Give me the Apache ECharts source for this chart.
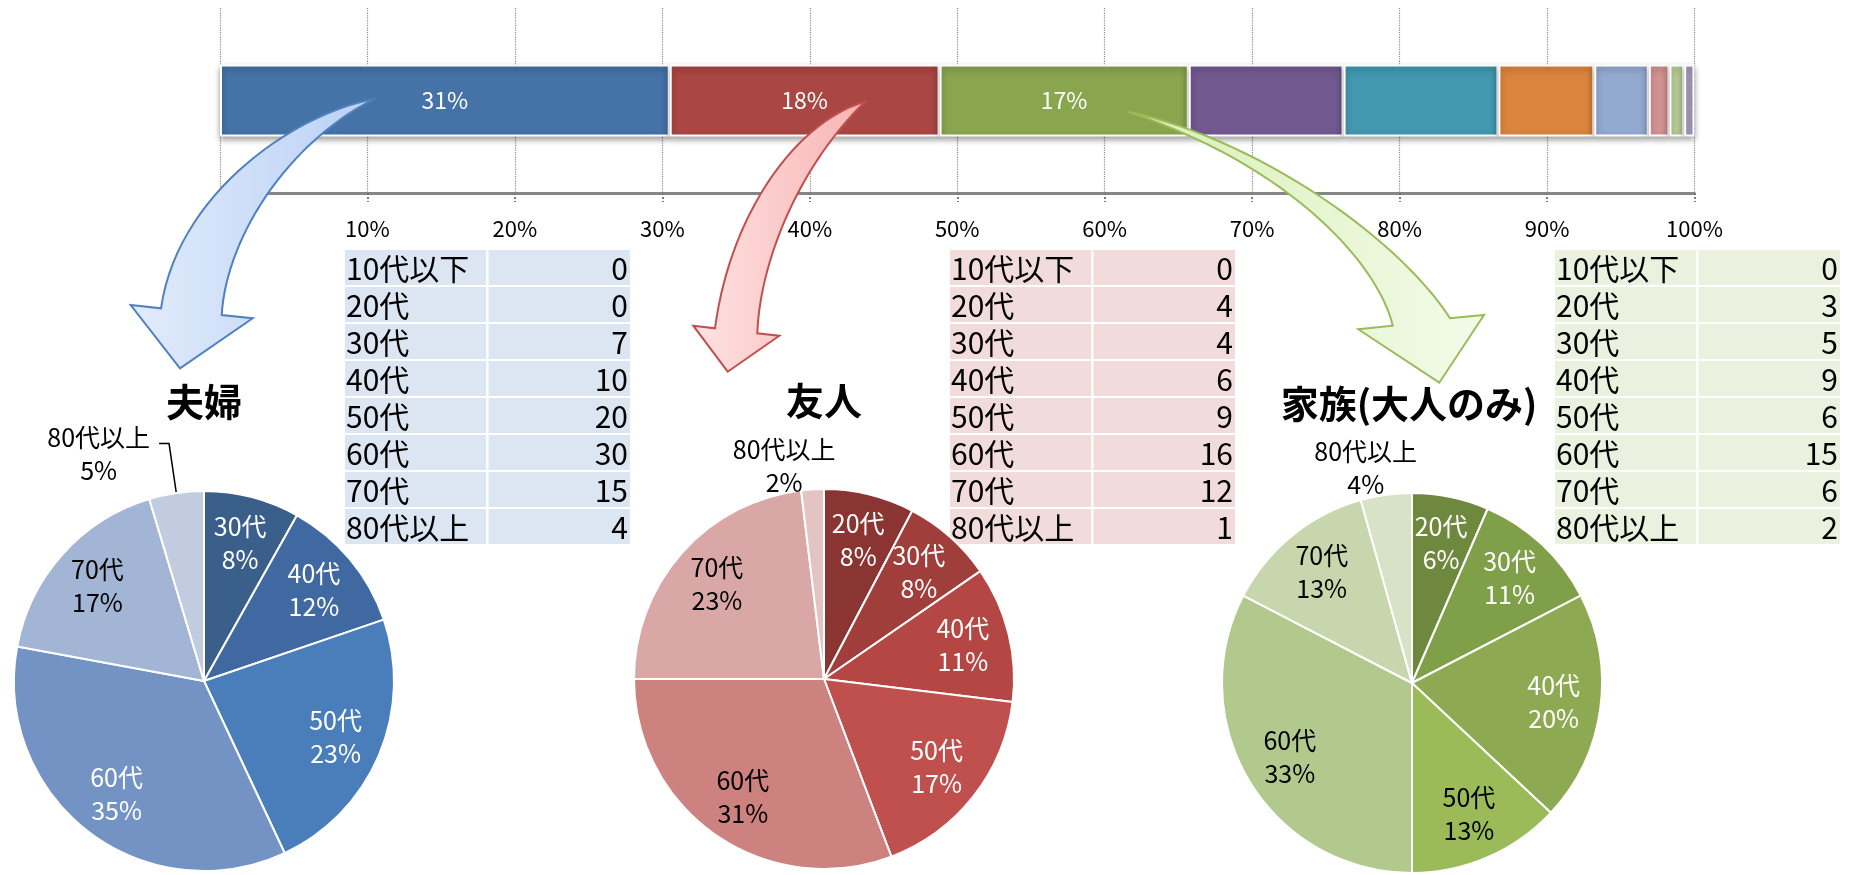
<!DOCTYPE html>
<html>
<head>
<meta charset="utf-8">
<script src="https://cdn.jsdelivr.net/npm/echarts@6/dist/echarts.min.js"></script>
<style>
  html, body { margin: 0; padding: 0; background: #fff; }
  #main { width: 1856px; height: 875px; }
</style>
</head>
<body>
<div id="main"></div>
<script>
// 上の帯グラフ：構成比（%）
var groupNames = ['夫婦', '友人', '家族(大人のみ)', 'その他4', 'その他5', 'その他6', 'その他7', 'その他8', 'その他9', 'その他10'];
var groupShares = [30.5, 18.3, 16.9, 10.5, 10.5, 6.5, 3.7, 1.4, 1.0, 0.7];

// 年代別の人数
var ageLabels = ['10代以下', '20代', '30代', '40代', '50代', '60代', '70代', '80代以上'];
var coupleCounts = [0, 0, 7, 10, 20, 30, 15, 4];
var friendCounts = [0, 4, 4, 6, 9, 16, 12, 1];
var familyCounts = [0, 3, 5, 9, 6, 15, 6, 2];

var FONT = 'Noto Sans CJK JP';
var barColors = ['#4572A7', '#AA4643', '#89A54E', '#71588F', '#4198AF', '#DB843D', '#93A9CF', '#D19392', '#B9CD96', '#A99BBD'];

var pieSettings = [
  {
    title: '夫婦', counts: coupleCounts, center: [204, 681], titlePos: [204, 402],
    tableLeft: 344, tableBg: '#DCE6F2',
    colors: ['#2F4D71', '#33557F', '#3A5F8B', '#4169A1', '#4A7EBB', '#7393C4', '#A2B5D5', '#C1CCE1'],
    textColors: ['#fff', '#fff', '#fff', '#fff', '#fff', '#fff', '#000', '#000'],
    outer: { line: true, length: 50, length2: 10, distance: 9 }
  },
  {
    title: '友人', counts: friendCounts, center: [824, 679], titlePos: [824, 401],
    tableLeft: 949, tableBg: '#F2DCDB',
    colors: ['#6E2A29', '#8B3533', '#A03E3C', '#B44744', '#C0504D', '#CD827F', '#D9A7A6', '#E4C4C3'],
    textColors: ['#fff', '#fff', '#fff', '#fff', '#fff', '#000', '#000', '#000'],
    outer: { line: false, length: 33, length2: 0, distance: -25 }
  },
  {
    title: '家族(大人のみ)', counts: familyCounts, center: [1412, 683], titlePos: [1409, 404],
    tableLeft: 1554, tableBg: '#EBF1DE',
    colors: ['#5C7433', '#6E893D', '#809F49', '#8DAA52', '#9BBB59', '#B1C98D', '#C7D6AC', '#D8E2C7'],
    textColors: ['#fff', '#fff', '#fff', '#fff', '#000', '#000', '#000', '#000'],
    outer: { line: false, length: 37, length2: 0, distance: -36 }
  }
];

var myChart = echarts.init(document.getElementById('main'));

function tableRenderer(counts, bg) {
  return function (params, api) {
    var col = api.value(0);
    var row = api.value(1);
    var c = api.coord([col, row]);
    var s = api.size([1, 1]);
    var x0 = c[0] - s[0] / 2;
    var y0 = c[1] - s[1] / 2;
    var text = col === 0 ? ageLabels[row] : String(counts[row]);
    return {
      type: 'group',
      children: [
        { type: 'rect', shape: { x: x0, y: y0, width: s[0], height: s[1] },
          style: { fill: bg, stroke: '#fff', lineWidth: 2 } },
        { type: 'text',
          style: { text: text, x: col === 0 ? x0 + 2 : x0 + s[0] - 3, y: c[1] + 1,
                   align: col === 0 ? 'left' : 'right', verticalAlign: 'middle',
                   fontSize: 30, fontFamily: FONT, fill: '#000' } }
      ]
    };
  };
}

var grids = [{ left: 220, right: 161.5, top: 8, height: 185 }];
var xAxes = [{
  type: 'value', gridIndex: 0, min: 0, max: 100, interval: 10,
  axisLine: { show: true, lineStyle: { color: '#868686', width: 3 } },
  axisTick: { show: true, length: 9, lineStyle: { color: '#7a7a7a', type: [2, 2], width: 2 } },
  axisLabel: { margin: 25, fontSize: 22, color: '#000', fontFamily: FONT,
    formatter: function (v) { return v === 0 ? '' : v + '%'; } },
  splitLine: { show: true, lineStyle: { color: '#8c8c8c', type: 'dotted', width: 1.2 } }
}];
var yAxes = [{ type: 'category', gridIndex: 0, data: ['構成比'], show: false }];
var titles = [];
var series = [];

groupNames.forEach(function (name, i) {
  series.push({
    name: name, type: 'bar', stack: 'total', xAxisIndex: 0, yAxisIndex: 0,
    barWidth: 72, silent: true,
    itemStyle: { color: barColors[i], borderColor: '#fff', borderWidth: 2,
      shadowBlur: 6, shadowOffsetY: 3, shadowColor: 'rgba(0,0,0,0.35)' },
    label: { show: i < 3, position: 'inside', color: '#fff', fontSize: 23, fontFamily: FONT,
      formatter: function (p) { return Math.round(p.value) + '%'; } },
    data: [groupShares[i]]
  });
});

pieSettings.forEach(function (p, k) {
  var items = ageLabels.map(function (n, i) {
    return { name: n, value: p.counts[i], idx: i };
  }).filter(function (d) { return d.value > 0; });
  var last = ageLabels[ageLabels.length - 1];

  titles.push({
    text: p.title, left: p.titlePos[0] - 5, top: p.titlePos[1] - 5,
    textAlign: 'center', textVerticalAlign: 'middle',
    textStyle: { fontSize: 38, fontWeight: 'bold', color: '#000', fontFamily: FONT }
  });

  // 円グラフ本体（外側ラベルは80代以上のみ）
  series.push({
    type: 'pie', center: p.center, radius: 190, startAngle: 90, clockwise: true,
    percentPrecision: 0, avoidLabelOverlap: false, silent: true,
    itemStyle: { borderColor: '#fff', borderWidth: 2 },
    label: { show: false },
    labelLine: { show: false },
    data: items.map(function (d) {
      var item = { name: d.name, value: d.value, itemStyle: { color: p.colors[d.idx] } };
      if (d.name === last) {
        item.label = {
          show: true, position: 'outside', distanceToLabelLine: p.outer.distance,
          formatter: '{t|{b}}\n{t|{d}%}', padding: [20, 0, 0, 0],
          rich: { t: { fontSize: 25, lineHeight: 33, align: 'center', color: '#000', fontFamily: FONT } }
        };
        item.labelLine = { show: p.outer.line, length: p.outer.length, length2: p.outer.length2,
          lineStyle: { color: '#000', width: 1.5 } };
      }
      return item;
    })
  });

  // 内側ラベル用の透明リング
  series.push({
    type: 'pie', center: p.center, radius: [90, 190], startAngle: 90, clockwise: true,
    percentPrecision: 0, avoidLabelOverlap: false, silent: true,
    itemStyle: { color: 'rgba(0,0,0,0)', borderWidth: 0 },
    labelLine: { show: false },
    label: { show: true, position: 'inside', formatter: '{b}\n{d}%',
      fontSize: 25, lineHeight: 33, fontFamily: FONT },
    data: items.map(function (d) {
      return { name: d.name, value: d.value,
        label: { show: d.name !== last, color: p.textColors[d.idx] } };
    })
  });

  // 表
  var g = k + 1;
  grids.push({ left: p.tableLeft, top: 249, width: 287, height: 296 });
  xAxes.push({ type: 'category', gridIndex: g, data: ['年代', '人数'], show: false });
  yAxes.push({ type: 'category', gridIndex: g, data: ageLabels, inverse: true, show: false });
  var cells = [];
  ageLabels.forEach(function (a, i) { cells.push([0, i]); cells.push([1, i]); });
  series.push({
    type: 'custom', xAxisIndex: g, yAxisIndex: g, silent: true,
    renderItem: tableRenderer(p.counts, p.tableBg), data: cells
  });
});

// 矢印（装飾）：3次ベジェを折れ線にして多角形で描く
function bez(p0, p1, p2, p3) {
  var pts = [];
  for (var i = 0; i <= 30; i++) {
    var t = i / 30, u = 1 - t;
    pts.push([
      u * u * u * p0[0] + 3 * u * u * t * p1[0] + 3 * u * t * t * p2[0] + t * t * t * p3[0],
      u * u * u * p0[1] + 3 * u * u * t * p1[1] + 3 * u * t * t * p2[1] + t * t * t * p3[1]
    ]);
  }
  return pts;
}
function arrow(outer, head, inner, c1, c2, stroke) {
  var pts = bez.apply(null, outer).concat(head).concat(bez.apply(null, inner));
  return {
    type: 'polygon', z: 100, silent: true,
    shape: { points: pts },
    style: {
      fill: { type: 'linear', x: 0, y: 0, x2: 1, y2: 0,
        colorStops: [{ offset: 0, color: c1 }, { offset: 1, color: c2 }] },
      stroke: stroke, lineWidth: 2, lineJoin: 'miter'
    }
  };
}

var option = {
  animation: false,
  textStyle: { fontFamily: FONT },
  title: titles,
  grid: grids,
  xAxis: xAxes,
  yAxis: yAxes,
  series: series,
  graphic: {
    elements: [
      arrow([[373.3, 99.3], [300, 112], [178, 190], [161, 308.3]],
            [[130.7, 305], [180, 368.3], [252.7, 318.3]],
            [[221.7, 315], [226, 240], [285, 145], [373.3, 99.3]],
            '#E2ECFB', '#B9D0F5', '#4F81BD'),
      arrow([[865, 101.7], [795, 122], [730, 215], [715, 328.3]],
            [[693.3, 325.7], [727.7, 371.7], [779.3, 335.7]],
            [[757.3, 333.3], [760, 260], [800, 165], [865, 101.7]],
            '#FFE3E3', '#F7B3B3', '#C0504D'),
      arrow([[1128.3, 111.7], [1260, 140], [1400, 240], [1450, 318.3]],
            [[1484, 315], [1439.3, 382.7], [1358.3, 329.3]],
            [[1392.7, 325.7], [1380, 270], [1300, 170], [1128.3, 111.7]],
            '#D7EFB5', '#F3FBEA', '#9BBB59')
    ]
  }
};

myChart.setOption(option);
window.onresize = myChart.resize;
</script>
</body>
</html>
